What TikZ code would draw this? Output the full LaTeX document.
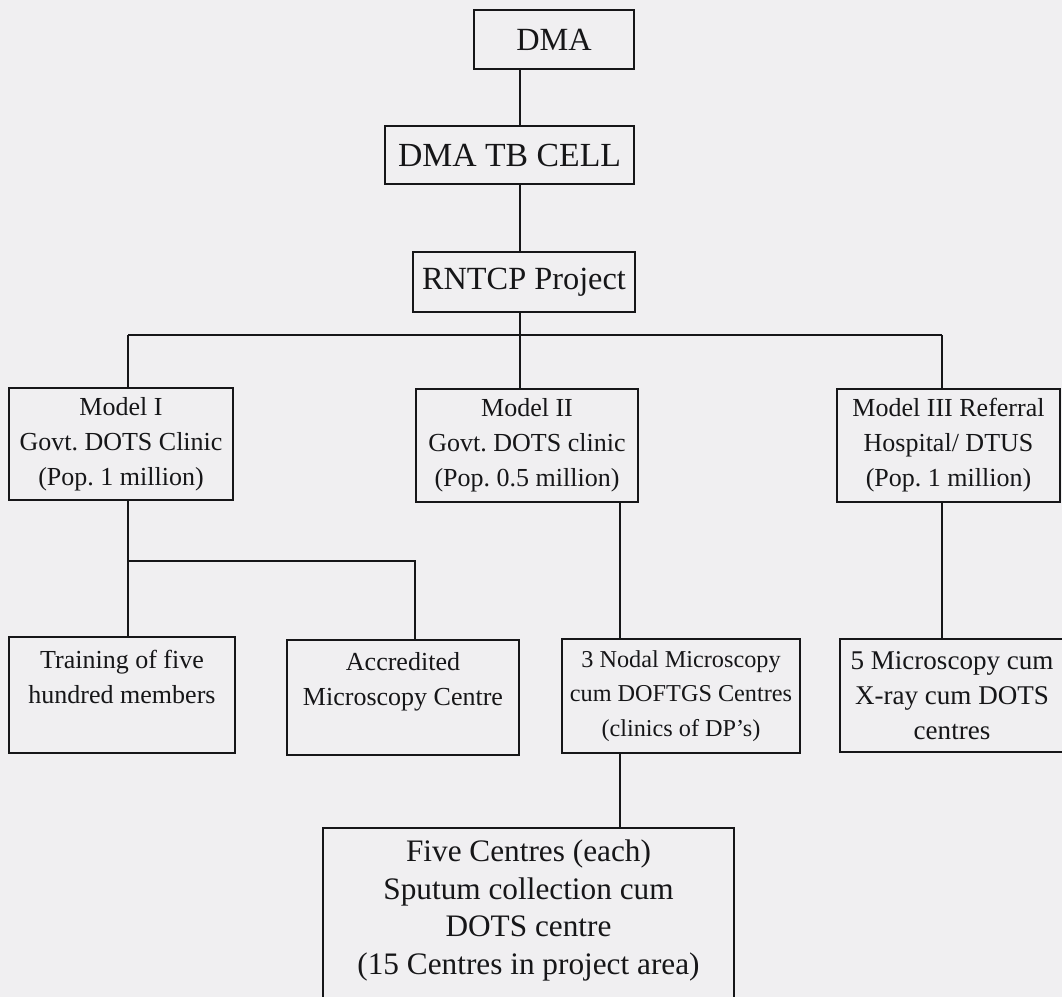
\documentclass[tikz,border=0pt]{standalone}
\usepackage{fontspec}
\setmainfont{Liberation Serif}
\frenchspacing
\definecolor{paper}{RGB}{240,239,241}
\definecolor{ink}{RGB}{22,22,24}
\tikzset{
  box/.style={draw=ink, line width=1.3pt, fill=paper, text=ink, align=center,
    inner sep=0pt, font=\fontsize{14.8}{19.9}\selectfont},
  headbox/.style={box, font=\fontsize{18.4}{21}\selectfont},
  topbox/.style={box, anchor=north, text height=#1},
  link/.style={draw=ink, line width=1.3pt}
}
\begin{document}
\begin{tikzpicture}[x=0.02cm, y=-0.02cm]
  \useasboundingbox (0,0) rectangle (1062,997);
  \clip (0,0) rectangle (1062,997);
  \fill [paper] (0,0) rectangle (1062,997);

  % Blocks
  \node [headbox, minimum width=3.2cm, minimum height=1.18cm] (dma) at (554,39.5) {DMA};
  \node [headbox, minimum width=4.98cm, minimum height=1.16cm,
    font=\fontsize{19.2}{21}\selectfont] (tbcell) at (509.5,155) {DMA TB CELL};
  \node [headbox, minimum width=4.44cm, minimum height=1.2cm] (rntcp) at (524,282) {RNTCP Project};

  \node [box, minimum width=4.48cm, minimum height=2.24cm] (model1) at (121,444) {Model I\\Govt. DOTS Clinic\\(Pop. 1 million)};
  \node [box, minimum width=4.44cm, minimum height=2.26cm] (model2) at (527,445.5) {Model II\\Govt. DOTS clinic\\(Pop. 0.5 million)};
  \node [box, minimum width=4.46cm, minimum height=2.26cm] (model3) at (948.5,445.5) {Model III Referral\\Hospital/ DTUS\\(Pop. 1 million)};

  \node [topbox=1.32cm, text depth=1.0cm, minimum width=4.52cm] (train) at (122,636) {Training of five\\hundred members};
  \node [topbox=1.30cm, text depth=1.0cm, minimum width=4.64cm] (accr) at (403,639) {Accredited\\Microscopy Centre};
  \node [box, minimum width=4.76cm, minimum height=2.28cm,
    font=\fontsize{13.8}{19.6}\selectfont] (nodal3) at (681,696) {3 Nodal Microscopy\\cum DOFTGS Centres\\(clinics of DP’s)};
  \node [box, minimum width=4.48cm, minimum height=2.26cm,
    font=\fontsize{15.4}{19.9}\selectfont] (micro5) at (952,695.5) {5 Microscopy cum\\X-ray cum DOTS\\centres};

  \node [topbox=2.925cm, text depth=0.8cm, minimum width=8.22cm,
    font=\fontsize{17.8}{21.4}\selectfont] (five) at (528.5,827)
    {Five Centres (each)\\Sputum collection cum\\DOTS centre\\(15 Centres in project area)};

  % Connections
  \coordinate (spine) at (520,0);
  \coordinate (nodal) at (620,0);
  \coordinate (busL) at (128,335);
  \coordinate (busR) at (942,335);
  \coordinate (fork) at (128,561);
  \coordinate (forkR) at (415,561);

  \draw [link] (dma.south -| spine) -- (tbcell.north -| spine);
  \draw [link] (tbcell.south -| spine) -- (rntcp.north -| spine);
  \draw [link] (rntcp.south -| spine) -- (model2.north -| spine);
  \draw [link] (busL) -- (busR);
  \draw [link] (busL) -- (model1.north -| busL);
  \draw [link] (busR) -- (model3.north -| busR);
  \draw [link] (model1.south -| busL) -- (train.north -| busL);
  \draw [link] (fork) -- (forkR) -- (accr.north -| forkR);
  \draw [link] (model2.south -| nodal) -- (nodal3.north -| nodal);
  \draw [link] (model3.south -| busR) -- (micro5.north -| busR);
  \draw [link] (nodal3.south -| nodal) -- (five.north -| nodal);
\end{tikzpicture}
\end{document}
